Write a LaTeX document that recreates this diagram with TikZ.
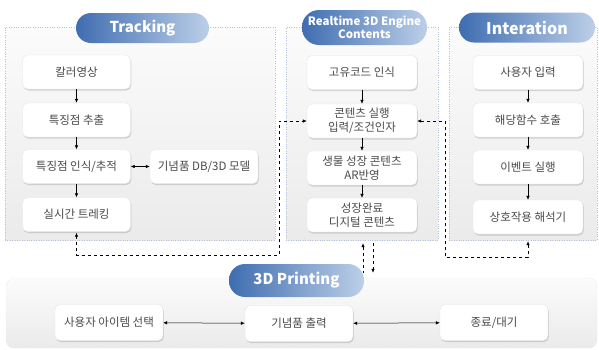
\documentclass[tikz,border=0pt]{standalone}
\usepackage{fontspec}
\setmainfont{Noto Sans CJK KR}
\usetikzlibrary{arrows.meta,positioning,shadows}

\definecolor{headdark}{HTML}{3F6DB0}
\definecolor{headlight}{HTML}{BCCFE8}
\definecolor{boxtext}{HTML}{4A4A4A}
\definecolor{pnledge}{HTML}{B4C2DA}

\begin{document}
\begin{tikzpicture}[x=1pt, y=-1pt, >={Latex[length=4pt,width=3.5pt]},
    panel/.style={draw=pnledge, dotted, top color=gray!3, bottom color=gray!16, inner sep=0pt},
    head/.style={left color=headdark, right color=headlight, rounded corners=15pt,
        text=white, font=\bfseries\fontsize{15}{17}\selectfont, inner sep=0pt, minimum height=30pt},
    stage/.style={fill=white, draw=gray!20, rounded corners=5pt, minimum width=108pt,
        minimum height=34pt, align=center, text=boxtext, inner sep=1pt,
        font=\fontsize{11.5}{14}\selectfont,
        drop shadow={shadow xshift=0.8pt, shadow yshift=-1.5pt, opacity=0.3}},
    flow/.style={->, line width=0.5pt},
    link/.style={dashed, line width=0.6pt}
]
    \useasboundingbox (0,0) rectangle (599,349);

    % Panels
    \node[panel, minimum width=270pt, minimum height=213pt] (pnlT) at (140,133.5) {};
    \node[panel, minimum width=152pt, minimum height=213pt] (pnlR) at (362,133.5) {};
    \node[panel, minimum width=148pt, minimum height=213pt] (pnlI) at (523,133.5) {};
    \node[panel, rounded corners=8pt, minimum width=591pt, minimum height=70pt] (pnlP) at (301.5,313) {};

    % Headers
    \node[head, minimum width=133pt] (hdT) at (142.5,28) {Tracking};
    \node[head, minimum width=125pt, minimum height=35pt, rounded corners=17pt, align=center,
        font=\bfseries\fontsize{11.5}{13}\selectfont] (hdR) at (364.5,27.5) {Realtime 3D Engine\\Contents};
    \node[head, minimum width=136pt, font=\bfseries\fontsize{16}{18}\selectfont] (hdI) at (527,27.5) {Interation};
    \node[head, minimum width=135pt, minimum height=33pt, rounded corners=16pt] (hdP) at (296.5,280.5) {3D Printing};

    % Tracking
    \node[stage] (trk1) at (76.5,72) {칼러영상};
    \node[stage] (trk2) at (76.5,120) {특징점 추출};
    \node[stage] (trk3) at (76.5,166.5) {특징점 인식/추적};
    \node[stage] (trk4) at (76.5,214.5) {실시간 트레킹};
    \node[stage] (trkDB) at (204,166.5) {기념품 DB/3D 모델};

    % Realtime 3D engine contents
    \node[stage, minimum width=110pt] (rt1) at (362,72.5) {고유코드 인식};
    \node[stage, minimum width=110pt] (rt2) at (362,121) {콘텐츠 실행\\입력/조건인자};
    \node[stage, minimum width=110pt] (rt3) at (362,168) {생물 성장 콘텐츠\\AR반영};
    \node[stage, minimum width=110pt] (rt4) at (362,215) {성장완료\\디지털 콘텐츠};

    % Interation
    \node[stage, minimum width=110pt] (int1) at (528,72.5) {사용자 입력};
    \node[stage, minimum width=110pt] (int2) at (528,120) {해당함수 호출};
    \node[stage, minimum width=110pt] (int3) at (528,167) {이벤트 실행};
    \node[stage, minimum width=110pt] (int4) at (528,217) {상호작용 해석기};

    % 3D printing
    \node[stage, minimum height=36pt] (pr1) at (109,322.5) {사용자 아이템 선택};
    \node[stage, minimum height=36pt] (pr2) at (299,323.5) {기념품 출력};
    \node[stage, minimum height=36pt] (pr3) at (494,322.5) {종료/대기};

    % Column arrows
    \foreach \a/\b in {trk1/trk2, trk2/trk3, trk3/trk4, rt1/rt2, rt2/rt3, rt3/rt4,
                       int1/int2, int2/int3, int3/int4}
        \draw[flow] (\a) -- (\b);
    \draw[flow, <->] (trk3) -- (trkDB);
    \draw[flow, <->] (pr1) -- (pr2);
    \draw[flow, <->] (pr2) -- (pr3);

    % Dashed links
    \coordinate (bendT) at (279,255);
    \coordinate (bendI) at (445,257);
    \draw[link, <->, shorten <=1pt] (trk4.south) |- (bendT) |- (rt2.west);
    \draw[link, <->, shorten <=7pt] (int4.south) |- (bendI) |- (rt2.east);
    \draw[link, <-, shorten <=11pt, shorten >=5pt] ([xshift=1pt]rt4.south) -- ([xshift=1pt]rt4.south |- pnlP.north);
    \draw[link, ->, shorten <=11pt, shorten >=5pt] ([xshift=11pt]rt4.south) -- ([xshift=11pt]rt4.south |- pnlP.north);
\end{tikzpicture}
\end{document}
